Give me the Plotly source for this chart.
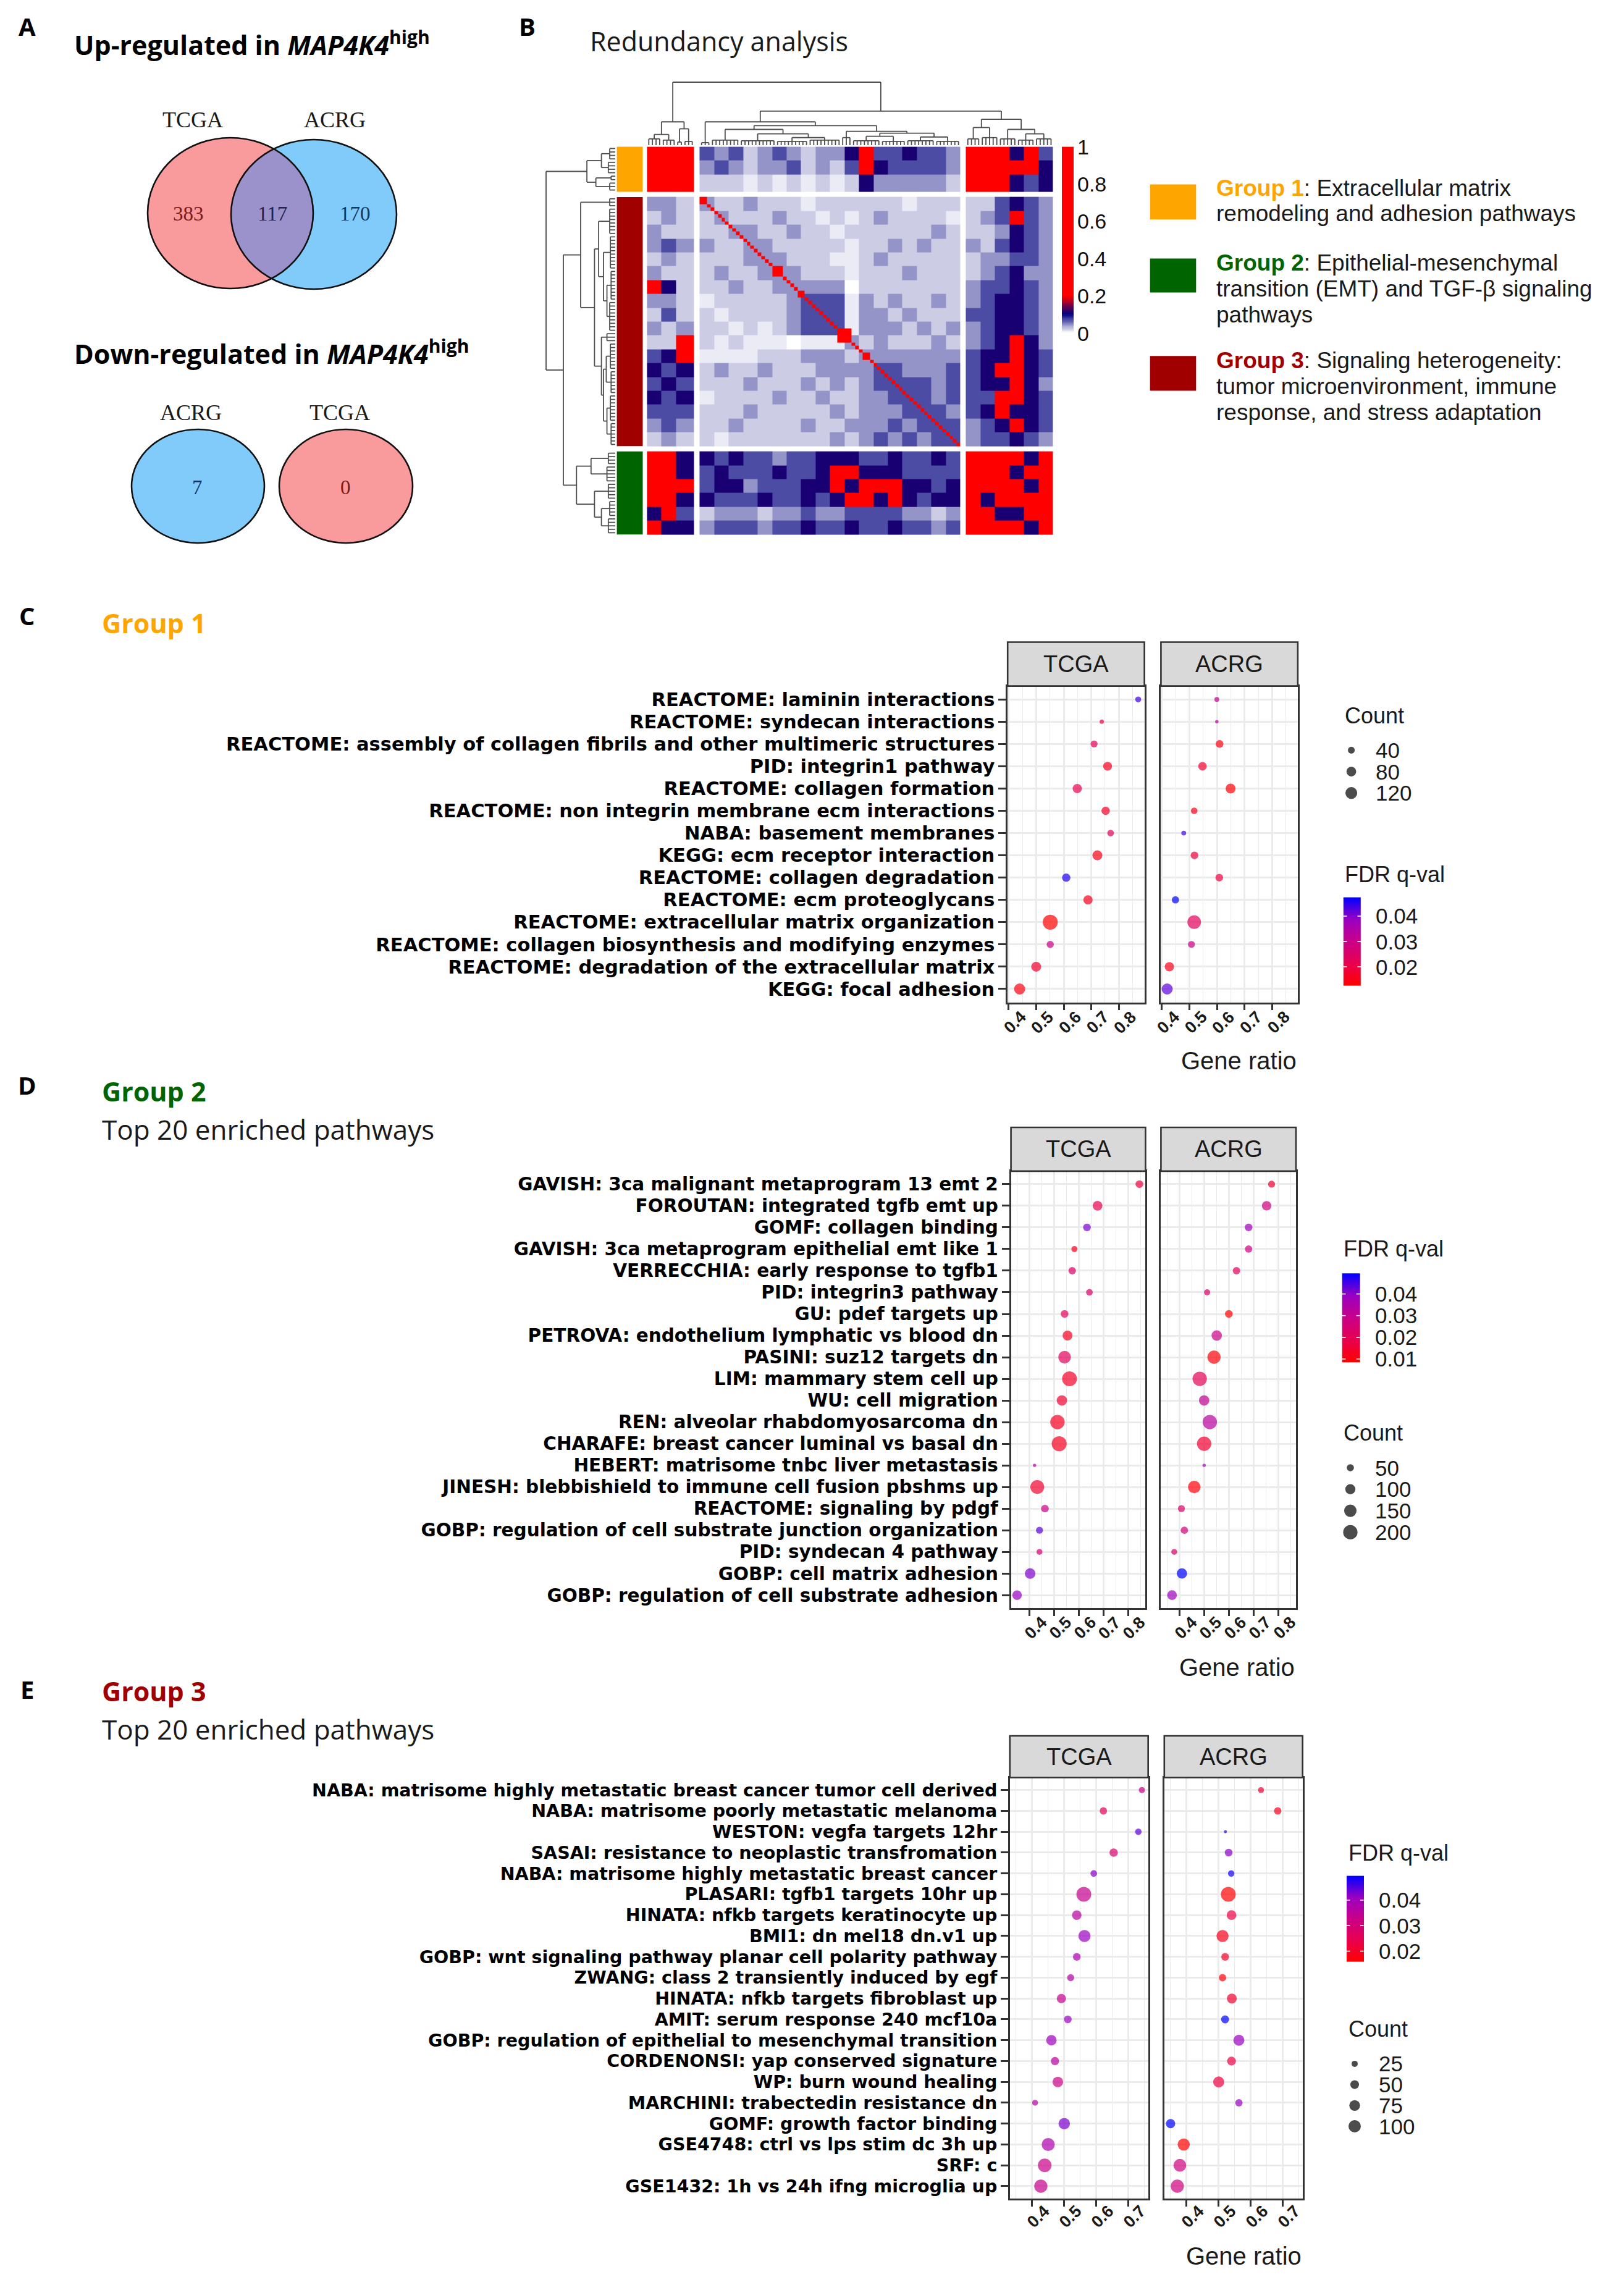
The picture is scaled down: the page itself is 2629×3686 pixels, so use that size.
import numpy as np
import plotly.graph_objects as go

W, H = 2629, 3686
SANS = "Liberation Sans, Arial, Helvetica, sans-serif"
LABEL_FONT = "DejaVu Sans, Verdana, sans-serif"
HEAD = "Open Sans, Noto Sans, sans-serif"
SERIF = "Liberation Serif, Times New Roman, serif"

# ======================= DATA =======================
# ---- Panel A : Venn counts
venn_up_names = ["TCGA", "ACRG"]
venn_up_values = [383, 117, 170]          # TCGA only, shared, ACRG only
venn_down_names = ["ACRG", "TCGA"]
venn_down_values = [7, 0]

# ---- Panel B : redundancy heatmap
group_labels = ["Group 1", "Group 2", "Group 3"]
group_colors = ["#FFA500", "#006400", "#A00000"]
group_descriptions = [
    ["Extracellular matrix", "remodeling and adhesion pathways"],
    ["Epithelial-mesenchymal", "transition (EMT) and TGF-\u03b2 signaling", "pathways"],
    ["Signaling heterogeneity:", "tumor microenvironment, immune", "response, and stress adaptation"],
]
hm_block_order = [0, 2, 1]                # blocks: Group 1, Group 3, Group 2
hm_block_sizes = [13, 72, 24]
hm_block_units = [[4, 4, 5], [4] * 18, [4] * 6]
hm_level_values = [0, 0.008, 0.02, 0.042, 0.07, 0.11, 0.2, 0.5, 0.8, 1.0]
hm_coarse = [
    "999" "434234323357445443" "989584",
    "999" "343233423247544443" "898785",
    "999" "222121212125333332" "787545",
    "332" "322322212222221222" "224543",
    "232" "232223221212322221" "234643",
    "322" "223322322122222232" "223543",
    "343" "322332222212232322" "324543",
    "232" "222333222112322222" "233443",
    "322" "232233322212223222" "234533",
    "652" "223223333302222222" "344543",
    "332" "122222344413232232" "345543",
    "242" "212222344413323222" "445543",
    "323" "221212344413332323" "345543",
    "226" "212111011132322232" "345653",
    "456" "111122233323333333" "455654",
    "545" "232232223333443334" "456654",
    "454" "222322232323444434" "455653",
    "545" "122223223223344434" "446654",
    "444" "222322222323334443" "456554",
    "343" "223222232233343444" "345654",
    "232" "212222222323434344" "344543",
    "875" "545443445554454454" "987858",
    "885" "454445445665554444" "898586",
    "786" "455344455656665545" "789857",
    "775" "544454454566565455" "858798",
    "564" "233323343344443323" "675576",
    "655" "344434454454454434" "787657",
]
hm_diag_blocks = [(13, 15), (33, 36), (40, 42), (51, 55), (58, 60)]
hm_cbar_ticks = [0, 0.2, 0.4, 0.6, 0.8, 1]


def N(h, a, b):
    return ("n", h, a, b)


def L(h, n):
    return ("c", h, n)


col_tree = N(1.0,
             N(0.37, N(0.17, L(0.10, 4), L(0.08, 4)), N(0.26, L(0.05, 2), L(0.06, 3))),
             N(0.54,
               N(0.37, L(0.04, 3),
                 N(0.31,
                   N(0.25, L(0.08, 8), N(0.18, L(0.07, 10), N(0.12, L(0.06, 9), L(0.08, 9)))),
                   N(0.22, L(0.12, 3), N(0.19, N(0.14, L(0.07, 8), L(0.06, 7)),
                                         N(0.13, L(0.07, 8), L(0.06, 7)))))),
               N(0.41, N(0.28, L(0.10, 4), L(0.12, 5)),
                 N(0.25, L(0.10, 5), N(0.18, L(0.08, 5), L(0.10, 5))))))
row_tree = N(1.0,
             N(0.41, N(0.20, L(0.08, 4), L(0.10, 4)), N(0.28, L(0.06, 2), L(0.08, 3))),
             N(0.75,
               N(0.50, L(0.08, 3),
                 N(0.30,
                   N(0.24, L(0.08, 8), N(0.17, L(0.07, 10), N(0.12, L(0.06, 9), L(0.08, 9)))),
                   N(0.20, L(0.12, 3), N(0.17, N(0.13, L(0.07, 8), L(0.06, 7)),
                                         N(0.12, L(0.07, 8), L(0.06, 7)))))),
               N(0.56, N(0.35, L(0.10, 4), L(0.12, 5)),
                 N(0.30, L(0.10, 5), N(0.20, L(0.08, 5), L(0.10, 5))))))

# ---- Panel C : Group 1
c_labels = [
    "REACTOME: laminin interactions",
    "REACTOME: syndecan interactions",
    "REACTOME: assembly of collagen fibrils and other multimeric structures",
    "PID: integrin1 pathway",
    "REACTOME: collagen formation",
    "REACTOME: non integrin membrane ecm interactions",
    "NABA: basement membranes",
    "KEGG: ecm receptor interaction",
    "REACTOME: collagen degradation",
    "REACTOME: ecm proteoglycans",
    "REACTOME: extracellular matrix organization",
    "REACTOME: collagen biosynthesis and modifying enzymes",
    "REACTOME: degradation of the extracellular matrix",
    "KEGG: focal adhesion",
]
c_tcga_ratio = [0.870, 0.738, 0.710, 0.759, 0.649, 0.752, 0.770, 0.722, 0.609, 0.688, 0.551, 0.551, 0.500, 0.440]
c_acrg_ratio = [0.599, 0.599, 0.609, 0.547, 0.649, 0.517, 0.479, 0.518, 0.608, 0.449, 0.517, 0.507, 0.427, 0.419]
c_tcga_count = [30, 16, 42, 67, 73, 60, 37, 84, 60, 73, 193, 45, 84, 105]
c_acrg_count = [20, 10, 51, 60, 84, 37, 20, 51, 51, 45, 158, 42, 73, 105]
c_tcga_fdr = [0.0439, 0.0196, 0.0230, 0.0161, 0.0213, 0.0168, 0.0230, 0.0150, 0.0457, 0.0161, 0.0126, 0.0300, 0.0178, 0.0143]
c_acrg_fdr = [0.0317, 0.0335, 0.0143, 0.0178, 0.0133, 0.0154, 0.0439, 0.0196, 0.0196, 0.0474, 0.0230, 0.0300, 0.0154, 0.0422]
c_count_breaks = [40, 80, 120]
c_fdr_breaks = [0.02, 0.03, 0.04]
c_xticks = [0.4, 0.5, 0.6, 0.7, 0.8]

# ---- Panel D : Group 2
d_labels = [
    "GAVISH: 3ca malignant metaprogram 13 emt 2",
    "FOROUTAN: integrated tgfb emt up",
    "GOMF: collagen binding",
    "GAVISH: 3ca metaprogram epithelial emt like 1",
    "VERRECCHIA: early response to tgfb1",
    "PID: integrin3 pathway",
    "GU: pdef targets up",
    "PETROVA: endothelium lymphatic vs blood dn",
    "PASINI: suz12 targets dn",
    "LIM: mammary stem cell up",
    "WU: cell migration",
    "REN: alveolar rhabdomyosarcoma dn",
    "CHARAFE: breast cancer luminal vs basal dn",
    "HEBERT: matrisome tnbc liver metastasis",
    "JINESH: blebbishield to immune cell fusion pbshms up",
    "REACTOME: signaling by pdgf",
    "GOBP: regulation of cell substrate junction organization",
    "PID: syndecan 4 pathway",
    "GOBP: cell matrix adhesion",
    "GOBP: regulation of cell substrate adhesion",
]
d_tcga_ratio = [0.846, 0.676, 0.633, 0.582, 0.573, 0.643, 0.542, 0.554, 0.542, 0.562,
                0.531, 0.513, 0.520, 0.420, 0.431, 0.462, 0.440, 0.440, 0.402, 0.349]
d_acrg_ratio = [0.772, 0.752, 0.679, 0.679, 0.630, 0.511, 0.599, 0.550, 0.539, 0.481,
                0.499, 0.522, 0.499, 0.499, 0.459, 0.407, 0.419, 0.378, 0.409, 0.369]
d_tcga_count = [58, 92, 58, 37, 54, 43, 58, 95, 155, 214, 105, 200, 220, 11, 188, 58, 48, 34, 109, 88]
d_acrg_count = [48, 88, 58, 52, 54, 37, 58, 105, 170, 200, 105, 200, 200, 11, 155, 48, 52, 34, 105, 92]
d_tcga_fdr = [0.0168, 0.0188, 0.0413, 0.0127, 0.0230, 0.0241, 0.0209, 0.0127, 0.0209, 0.0135,
              0.0147, 0.0127, 0.0127, 0.0352, 0.0147, 0.0290, 0.0434, 0.0250, 0.0413, 0.0393]
d_acrg_fdr = [0.0147, 0.0270, 0.0380, 0.0270, 0.0209, 0.0230, 0.0086, 0.0290, 0.0098, 0.0200,
              0.0310, 0.0331, 0.0147, 0.0372, 0.0094, 0.0230, 0.0258, 0.0230, 0.0495, 0.0380]
d_count_breaks = [50, 100, 150, 200]
d_fdr_breaks = [0.01, 0.02, 0.03, 0.04]
d_xticks = [0.4, 0.5, 0.6, 0.7, 0.8]

# ---- Panel E : Group 3
e_labels = [
    "NABA: matrisome highly metastatic breast cancer tumor cell derived",
    "NABA: matrisome poorly metastatic melanoma",
    "WESTON: vegfa targets 12hr",
    "SASAI: resistance to neoplastic transfromation",
    "NABA: matrisome highly metastatic breast cancer",
    "PLASARI: tgfb1 targets 10hr up",
    "HINATA: nfkb targets keratinocyte up",
    "BMI1: dn mel18 dn.v1 up",
    "GOBP: wnt signaling pathway planar cell polarity pathway",
    "ZWANG: class 2 transiently induced by egf",
    "HINATA: nfkb targets fibroblast up",
    "AMIT: serum response 240 mcf10a",
    "GOBP: regulation of epithelial to mesenchymal transition",
    "CORDENONSI: yap conserved signature",
    "WP: burn wound healing",
    "MARCHINI: trabectedin resistance dn",
    "GOMF: growth factor binding",
    "GSE4748: ctrl vs lps stim dc 3h up",
    "SRF: c",
    "GSE1432: 1h vs 24h ifng microglia up",
]
e_tcga_ratio = [0.742, 0.622, 0.731, 0.654, 0.592, 0.561, 0.539, 0.563, 0.539, 0.520,
                0.491, 0.511, 0.460, 0.471, 0.480, 0.409, 0.500, 0.450, 0.439, 0.427]
e_acrg_ratio = [0.632, 0.684, 0.521, 0.531, 0.539, 0.530, 0.540, 0.512, 0.520, 0.512,
                0.541, 0.520, 0.563, 0.540, 0.500, 0.563, 0.350, 0.391, 0.379, 0.371]
e_tcga_count = [25, 35, 27, 46, 29, 144, 59, 96, 39, 32, 56, 39, 71, 44, 73, 23, 86, 111, 122, 114]
e_acrg_count = [23, 35, 6, 39, 27, 144, 62, 96, 39, 35, 64, 42, 80, 51, 80, 35, 56, 96, 107, 114]
e_tcga_fdr = [0.0327, 0.0260, 0.0444, 0.0286, 0.0421, 0.0333, 0.0360, 0.0410, 0.0377, 0.0367,
              0.0333, 0.0410, 0.0400, 0.0360, 0.0320, 0.0360, 0.0428, 0.0377, 0.0327, 0.0333]
e_acrg_fdr = [0.0209, 0.0192, 0.0478, 0.0421, 0.0485, 0.0158, 0.0232, 0.0185, 0.0209, 0.0168,
              0.0209, 0.0495, 0.0410, 0.0232, 0.0225, 0.0410, 0.0495, 0.0158, 0.0310, 0.0310]
e_count_breaks = [25, 50, 75, 100]
e_fdr_breaks = [0.02, 0.03, 0.04]
e_xticks = [0.4, 0.5, 0.6, 0.7]

facet_names = ["TCGA", "ACRG"]

# ======================= STYLE / LAYOUT =======================
FDR_SCALE = [[0, "#FF0000"], [0.25, "#E8004F"], [0.5, "#C90088"], [0.75, "#9A00C2"], [1, "#0000FF"]]
HM_SCALE = [[0, "#FFFFFF"], [0.1, "#00007F"], [0.2, "#FF0000"], [1, "#FF0000"]]
GRID = "#EBEBEB"
BORDER = "#333333"

fig = go.Figure()
ann = []
shp = []
layout_axes = {}


def PX(x):
    return x / W


def PY(y):
    return 1 - y / H


def text(x, y, s, size, color="#000000", family=SANS, xanchor="left", yanchor="middle", angle=0):
    ann.append(dict(x=x, y=y, xref="x7", yref="y7", text=s, showarrow=False, xanchor=xanchor,
                    yanchor=yanchor, textangle=angle, font=dict(size=size, color=color, family=family)))


def rect(x0, y0, x1, y1, fill, line=None, lw=0):
    shp.append(dict(type="rect", xref="x7", yref="y7", x0=x0, y0=y0, x1=x1, y1=y1,
                    fillcolor=fill, line=dict(color=line or fill, width=lw)))


def seg(x0, y0, x1, y1, color, lw):
    shp.append(dict(type="line", xref="x7", yref="y7", x0=x0, y0=y0, x1=x1, y1=y1,
                    line=dict(color=color, width=lw)))


def ellipse(cx, cy, rx, ry, fill=None, line=None, lw=0):
    d = dict(type="circle", xref="x7", yref="y7", x0=cx - rx, x1=cx + rx, y0=cy - ry, y1=cy + ry,
             line=dict(color=line or "rgba(0,0,0,0)", width=lw))
    d["fillcolor"] = fill if fill else "rgba(0,0,0,0)"
    shp.append(d)


def gradient_bar(x0, top, thick, length, vtop, vbottom, cax, steps=160):
    vals = np.linspace(vtop, vbottom, steps)
    edges = np.linspace(top, top + length, steps + 1)
    fig.add_trace(go.Heatmap(z=[[float(v)] for v in vals], x=[x0, x0 + thick], y=list(edges),
                             coloraxis=cax, xaxis="x7", yaxis="y7", hoverinfo="skip", zsmooth=False))


def lens_path(e1, e2, n=240):
    (c1x, c1y, a1, b1), (c2x, c2y, a2, b2) = e1, e2
    ox = (c1x + a1 + c2x - a2) / 2.0
    oy = (c1y + c2y) / 2.0
    pts = []
    for t in np.linspace(0, 2 * np.pi, n, endpoint=False):
        dx, dy = np.cos(t), np.sin(t)
        ts = []
        for cx, cy, a, b in (e1, e2):
            px, py = ox - cx, oy - cy
            A = (dx / a) ** 2 + (dy / b) ** 2
            B = 2 * (px * dx / a ** 2 + py * dy / b ** 2)
            C = (px / a) ** 2 + (py / b) ** 2 - 1
            ts.append((-B + np.sqrt(B * B - 4 * A * C)) / (2 * A))
        r = min(ts)
        pts.append((ox + r * dx, oy + r * dy))
    return "M " + " L ".join(f"{x:.2f},{y:.2f}" for x, y in pts) + " Z"


# ---------------- Panel A ----------------
PINK, BLUE, LENS = "#F99A9C", "#80CBFA", "#9B91CB"
NUM_RED, NUM_MID, NUM_BLUE = "#7A1A1A", "#24244E", "#123766"
text(36, 34, "<b>A</b>", 40, family=HEAD, xanchor="center")
text(110, 62, "<b>Up-regulated in <i>MAP4K4</i><sup>high</sup></b>", 43, family=HEAD)
eT = (365, 337, 134, 122)
eA = (500, 339, 134, 121)
ellipse(*eT, fill=PINK)
ellipse(*eA, fill=BLUE)
shp.append(dict(type="path", xref="x7", yref="y7", path=lens_path(eT, eA), fillcolor=LENS,
                line=dict(width=0, color="rgba(0,0,0,0)")))
ellipse(*eT, line="#111111", lw=2.6)
ellipse(*eA, line="#111111", lw=2.6)
text(304, 186, venn_up_names[0], 36, family=SERIF, color="#1A1A1A", xanchor="center")
text(534, 186, venn_up_names[1], 36, family=SERIF, color="#1A1A1A", xanchor="center")
text(297, 338, str(venn_up_values[0]), 33, family=SERIF, color=NUM_RED, xanchor="center")
text(433, 338, str(venn_up_values[1]), 33, family=SERIF, color=NUM_MID, xanchor="center")
text(567, 338, str(venn_up_values[2]), 33, family=SERIF, color=NUM_BLUE, xanchor="center")

text(110, 562, "<b>Down-regulated in <i>MAP4K4</i><sup>high</sup></b>", 43, family=HEAD)
eA2 = (312.5, 779, 107.5, 92)
eT2 = (552, 779, 108, 92)
ellipse(*eA2, fill=BLUE, line="#111111", lw=2.6)
ellipse(*eT2, fill=PINK, line="#111111", lw=2.6)
text(301, 660, venn_down_names[0], 36, family=SERIF, color="#1A1A1A", xanchor="center")
text(542, 660, venn_down_names[1], 36, family=SERIF, color="#1A1A1A", xanchor="center")
text(311, 781, str(venn_down_values[0]), 33, family=SERIF, color=NUM_BLUE, xanchor="center")
text(551, 781, str(venn_down_values[1]), 33, family=SERIF, color=NUM_RED, xanchor="center")

# ---------------- Panel B ----------------
text(845, 34, "<b>B</b>", 40, family=HEAD, xanchor="center")
text(945, 58, "Redundancy analysis", 43, family=HEAD, color="#1A1A1A")

HM_X0, HM_CW, HM_GX = 1039.4, 5.857, 9.3
HM_Y0, HM_CH, HM_GY = 229.6, 5.6, 8.6


def build_edges(start, cell, gap, sizes):
    e, centers, bstart, bend = [start], [], [], []
    pos = start
    for gi, n in enumerate(sizes):
        bstart.append(pos)
        for _ in range(n):
            centers.append(pos + cell / 2)
            pos += cell
            e.append(pos)
        bend.append(pos)
        if gi < len(sizes) - 1:
            pos += gap
            e.append(pos)
    return e, centers, bstart, bend


col_edges, col_centers, col_bs, col_be = build_edges(HM_X0, HM_CW, HM_GX, hm_block_sizes)
row_edges, row_centers, row_bs, row_be = build_edges(HM_Y0, HM_CH, HM_GY, hm_block_sizes)

unit_of = []
u = 0
for units in hm_block_units:
    for n in units:
        unit_of += [u] * n
        u += 1
NC = sum(hm_block_sizes)
fine = np.array([[hm_level_values[int(hm_coarse[unit_of[i]][unit_of[j]])] for j in range(NC)]
                 for i in range(NC)], dtype=float)
np.fill_diagonal(fine, 1.0)
for a, b in hm_diag_blocks:
    fine[a:b, a:b] = 1.0
cuts = list(np.cumsum(hm_block_sizes)[:-1])
Z = np.insert(np.insert(fine, cuts, np.nan, axis=1), cuts, np.nan, axis=0)
Zl = [[None if np.isnan(v) else float(v) for v in row] for row in Z]

fig.add_trace(go.Heatmap(z=Zl, x=col_edges, y=row_edges, coloraxis="coloraxis4", xaxis="x7", yaxis="y7",
                         hoverinfo="skip", zsmooth=False))


def dendro(node, leafpos, start, segs):
    if node[0] == "c":
        h, n = node[1], node[2]
        ps = leafpos[start:start + n]
        if n == 1:
            return ps[0], 0.0, start + 1
        for p in ps:
            segs.append(((p, 0.0), (p, h)))
        segs.append(((ps[0], h), (ps[-1], h)))
        return (ps[0] + ps[-1]) / 2, h, start + n
    _, h, a, b = node
    ca, ha, s1 = dendro(a, leafpos, start, segs)
    cb, hb, s2 = dendro(b, leafpos, s1, segs)
    segs += [((ca, ha), (ca, h)), ((cb, hb), (cb, h)), ((ca, h), (cb, h))]
    return (ca + cb) / 2, h, s2


DX, DY = [], []
segs = []
dendro(col_tree, col_centers, 0, segs)
for (p0, h0), (p1, h1) in segs:
    DX += [p0, p1, None]
    DY += [227 - h0 * 102, 227 - h1 * 102, None]
segs = []
dendro(row_tree, row_centers, 0, segs)
for (p0, h0), (p1, h1) in segs:
    DY += [p0, p1, None]
    DX += [988 - h0 * 112, 988 - h1 * 112, None]
fig.add_trace(go.Scatter(x=DX, y=DY, mode="lines", line=dict(color="#4D4D4D", width=1.8),
                         xaxis="x7", yaxis="y7", hoverinfo="skip"))

for bi, g in enumerate(hm_block_order):
    rect(990.6, row_bs[bi], 1032.5, row_be[bi], group_colors[g])

# heatmap colour legend
HB_X, HB_TOP, HB_TH, HB_LEN = 1711.0, 229.6, 18.5, 302.0
gradient_bar(HB_X, HB_TOP, HB_TH, HB_LEN, 1.0, 0.0, "coloraxis4")
for v in hm_cbar_ticks:
    lab = "0" if v == 0 else ("1" if v == 1 else f"{v:.1f}")
    text(1734, HB_TOP + (1 - v) * HB_LEN, lab, 34, color="#111111")

# group legend
sq_y = [(290.5, 347.3), (410.5, 465.5), (568.3, 624.4)]
line_y = [[296, 337], [417, 459, 501], [575, 617, 659]]
for gi, g in enumerate(group_labels):
    rect(1853.7, sq_y[gi][0], 1928.3, sq_y[gi][1], group_colors[gi])
    for li, s in enumerate(group_descriptions[gi]):
        if li == 0:
            s = f"<b><span style='color:{group_colors[gi]}'>{g}</span></b>: " + s
        text(1958.5, line_y[gi][li], s, 37, color="#1A1A1A")

# ---------------- Panels C, D, E ----------------
panels = [
    dict(letter="C", gname=0, sub=None, title_y=(988, 1000), labels=c_labels, lab_font=30.5,
         data=[(c_tcga_ratio, c_tcga_count, c_tcga_fdr), (c_acrg_ratio, c_acrg_count, c_acrg_fdr)],
         k=1.75, xs=[(1623.2, 1844.6), (1871.4, 2092.9)], py=(1102.6, 1614.6), sy=(1031.5, 1102.6),
         ticks=c_xticks, lab_dy=32, gene_y=1708.7,
         cb=c_count_breaks, ct=(2166.8, 1150.8), kx=2179.6, ky0=1206.4, kdy=34.65, klx=2217,
         fb=c_fdr_breaks, ft=(2166.8, 1407), bar=(2166.8, 1444.6, 28.4, 142.9), flx=2217),
    dict(letter="D", gname=1, sub=1820, title_y=(1748, 1758), labels=d_labels, lab_font=29.5,
         data=[(d_tcga_ratio, d_tcga_count, d_tcga_fdr), (d_acrg_ratio, d_acrg_count, d_acrg_fdr)],
         k=1.64, xs=[(1628.6, 1846.4), (1871.4, 2090.0)], py=(1887.9, 2595.2), sy=(1817.0, 1887.9),
         ticks=d_xticks, lab_dy=32, gene_y=2690.9,
         cb=d_count_breaks, ct=(2165, 2311.6), kx=2178, ky0=2368, kdy=34.8, klx=2215.7,
         fb=d_fdr_breaks, ft=(2165, 2013), bar=(2164.7, 2053.3, 28.7, 143.5), flx=2215.7),
    dict(letter="E", gname=2, sub=2791, title_y=(2726, 2729), labels=e_labels, lab_font=28.5,
         data=[(e_tcga_ratio, e_tcga_count, e_tcga_fdr), (e_acrg_ratio, e_acrg_count, e_acrg_fdr)],
         k=2.0, xs=[(1626.8, 1850.7), (1876.8, 2100.7)], py=(2869.5, 3551.2), sy=(2802.0, 2869.5),
         ticks=e_xticks, lab_dy=29, gene_y=3643.7,
         cb=e_count_breaks, ct=(2173, 3276.8), kx=2185, ky0=3332.9, kdy=33.7, klx=2221.8,
         fb=e_fdr_breaks, ft=(2173, 2991), bar=(2172, 3028.6, 27.5, 139.3), flx=2221.8),
]

for pi, P in enumerate(panels):
    cax = "coloraxis" if pi == 0 else f"coloraxis{pi + 1}"
    text(36, P["title_y"][0], f"<b>{P['letter']}</b>", 40, family=HEAD, xanchor="center")
    text(155, P["title_y"][1], f"<b>{group_labels[P['gname']]}</b>", 43, family=HEAD,
         color=group_colors[P["gname"]])
    if P["sub"]:
        text(155, P["sub"], "Top 20 enriched pathways", 44, family=HEAD, color="#1A1A1A")

    allx = P["data"][0][0] + P["data"][1][0]
    lo, hi = min(allx), max(allx)
    pad = 0.05 * (hi - lo)
    xr = [lo - pad, hi + pad]
    minors = [round(t + 0.05, 2) for t in [P["ticks"][0] - 0.1] + P["ticks"]]
    allq = P["data"][0][2] + P["data"][1][2]
    qmin, qmax = min(allq), max(allq)
    n = len(P["labels"])

    for fi in range(2):
        ai = pi * 2 + fi + 1
        xa = "xaxis" if ai == 1 else f"xaxis{ai}"
        ya = "yaxis" if ai == 1 else f"yaxis{ai}"
        xref = "x" if ai == 1 else f"x{ai}"
        yref = "y" if ai == 1 else f"y{ai}"
        x0, x1 = P["xs"][fi]
        ratio, count, fdr = P["data"][fi]
        diam = [P["k"] * np.sqrt(c) for c in count]
        fig.add_trace(go.Scatter(
            x=ratio, y=P["labels"], mode="markers", xaxis=xref, yaxis=yref, hoverinfo="skip",
            marker=dict(size=diam, sizemode="diameter", color=fdr, coloraxis=cax, line=dict(width=0))))
        layout_axes[xa] = dict(
            domain=[PX(x0), PX(x1)], anchor=yref, range=xr, tickvals=P["ticks"], showticklabels=False,
            ticks="outside", ticklen=10, tickwidth=2.5, tickcolor=BORDER,
            showgrid=True, gridcolor=GRID, gridwidth=2.6,
            minor=dict(tickvals=minors, showgrid=True, gridcolor=GRID, gridwidth=1.3, ticks=""),
            showline=True, mirror=True, linecolor=BORDER, linewidth=2.6, zeroline=False, fixedrange=True)
        yax = dict(
            domain=[PY(P["py"][1]), PY(P["py"][0])], anchor=xref, type="category",
            categoryorder="array", categoryarray=P["labels"][::-1], range=[-0.6, n - 0.4],
            showgrid=True, gridcolor=GRID, gridwidth=2.6,
            showline=True, mirror=True, linecolor=BORDER, linewidth=2.6, zeroline=False, fixedrange=True,
            tickmode="array", tickvals=P["labels"], ticktext=P["labels"],
            ticklen=12, tickwidth=2.5, tickcolor=BORDER,
            tickfont=dict(size=P["lab_font"], family=LABEL_FONT, color="#000000", weight="bold"))
        if fi == 0:
            yax.update(showticklabels=True, ticks="outside")
        else:
            yax.update(showticklabels=False, ticks="")
        layout_axes[ya] = yax
        # strip
        rect(x0, P["sy"][0], x1, P["sy"][1], "#D9D9D9", line=BORDER, lw=2.6)
        text((x0 + x1) / 2, (P["sy"][0] + P["sy"][1]) / 2, facet_names[fi], 38, color="#1A1A1A",
             xanchor="center")
        # rotated tick labels
        for t in P["ticks"]:
            ann.append(dict(x=t, y=PY(P["py"][1] + P["lab_dy"]), xref=xref, yref="paper",
                            text=f"<b>{t:.1f}</b>", showarrow=False, textangle=-45, xshift=10,
                            xanchor="center", yanchor="middle",
                            font=dict(size=27, family=SANS, color="#1A1A1A")))
    text(P["xs"][1][1], P["gene_y"], "Gene ratio", 40, color="#1A1A1A", xanchor="right")

    # count legend
    text(P["ct"][0], P["ct"][1], "Count", 36, color="#1A1A1A")
    ky = [P["ky0"] + i * P["kdy"] for i in range(len(P["cb"]))]
    fig.add_trace(go.Scatter(x=[P["kx"]] * len(P["cb"]), y=ky, mode="markers", xaxis="x7", yaxis="y7",
                             hoverinfo="skip",
                             marker=dict(size=[P["k"] * np.sqrt(c) for c in P["cb"]], sizemode="diameter",
                                         color="#000000", line=dict(width=0))))
    for c, yy in zip(P["cb"], ky):
        text(P["klx"], yy, str(c), 35, color="#1A1A1A")

    # fdr legend (gradient bar drawn through the same colour axis)
    text(P["ft"][0], P["ft"][1], "FDR q-val", 36, color="#1A1A1A")
    bx, btop, bth, blen = P["bar"]
    fig.layout[cax] = dict(colorscale=FDR_SCALE, cmin=qmin, cmax=qmax, showscale=False)
    gradient_bar(bx, btop, bth, blen, qmax, qmin, cax)
    for v in P["fb"]:
        yy = btop + (qmax - v) / (qmax - qmin) * blen
        seg(bx, yy, bx + bth * 0.2, yy, "#FFFFFF", 1.6)
        seg(bx + bth * 0.8, yy, bx + bth, yy, "#FFFFFF", 1.6)
        text(P["flx"], yy, f"{v:.2f}", 35, color="#1A1A1A")

fig.layout["coloraxis4"] = dict(colorscale=HM_SCALE, cmin=0, cmax=1, showscale=False)

layout_axes["xaxis7"] = dict(domain=[0, 1], range=[0, W], visible=False, fixedrange=True, anchor="y7")
layout_axes["yaxis7"] = dict(domain=[0, 1], range=[H, 0], visible=False, fixedrange=True, anchor="x7")

fig.update_layout(
    width=W, height=H, margin=dict(l=0, r=0, t=0, b=0, autoexpand=False),
    paper_bgcolor="#FFFFFF", plot_bgcolor="rgba(0,0,0,0)", showlegend=False,
    annotations=ann, shapes=shp, **layout_axes)

fig.write_html("out.html")
